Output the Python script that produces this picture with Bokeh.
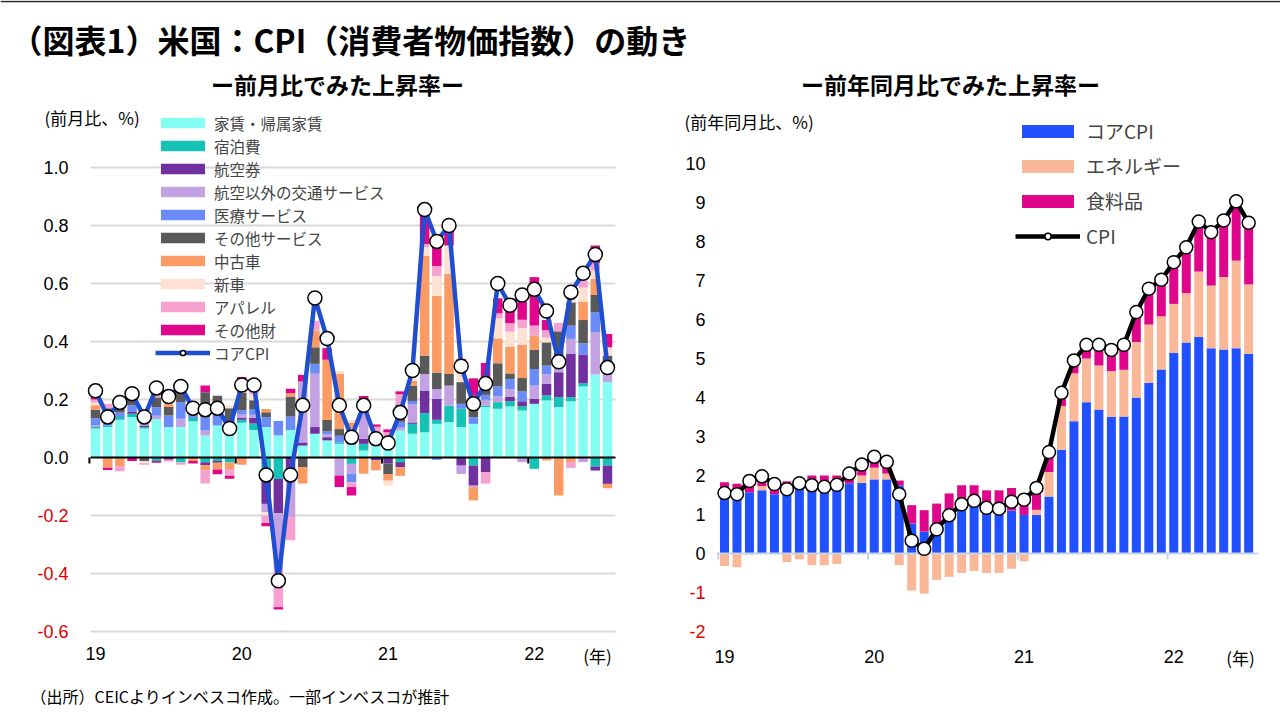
from bokeh.plotting import figure
from bokeh.models import ColumnDataSource, Legend, LegendItem, Range1d
from bokeh.layouts import column, row
from bokeh.embed import file_html
from bokeh.resources import INLINE
from bokeh.core.properties import value

JP = "Noto Sans CJK JP"
NUM = "Liberation Sans"

# ---------------- data ----------------
months = [f"{y}-{m:02d}" for y in (2019, 2020, 2021, 2022) for m in range(1, 13)][:43]
year_labels = ["19", "20", "21", "22"]
unit_label = "(年)"

left_ticks = [-0.6, -0.4, -0.2, 0.0, 0.2, 0.4, 0.6, 0.8, 1.0]
right_ticks = [-2, -1, 0, 1, 2, 3, 4, 5, 6, 7, 8, 9, 10]

# month-on-month contributions (%pt)
rent = [0.100, 0.105, 0.130, 0.140, 0.100, 0.133, 0.105, 0.105, 0.125, 0.076, 0.110, 0.100,
        0.120, 0.095, 0.105, 0.076, 0.095, 0.041, 0.082, 0.059, 0.047, 0.045, 0.024, 0.041,
        0.047, 0.093, 0.082, 0.087, 0.116, 0.122, 0.105, 0.116, 0.174, 0.168, 0.176, 0.162,
        0.185, 0.197, 0.174, 0.194, 0.245, 0.286, 0.260]
lodging = [0.005, 0.005, 0.010, 0.011, 0.005, -0.012, 0.000, -0.017, 0.011, -0.016, -0.012, -0.017,
           0.010, 0.022, -0.062, -0.074, 0.000, 0.000, 0.000, 0.000, 0.005, -0.022, 0.023, 0.000,
           0.010, -0.016, 0.034, 0.066, 0.014, 0.057, 0.063, -0.028, 0.005, 0.023, 0.018, 0.015,
           -0.039, 0.017, 0.034, 0.014, 0.011, -0.031, -0.028]
airfare = [0.000, 0.000, 0.000, 0.006, 0.005, 0.000, -0.008, 0.000, 0.000, -0.011, -0.006, 0.000,
           0.008, 0.020, -0.098, -0.118, -0.050, 0.011, 0.023, 0.011, 0.000, 0.000, 0.017, -0.010,
           -0.020, -0.017, 0.005, 0.078, 0.072, 0.000, -0.028, -0.069, -0.050, 0.000, 0.016, 0.017,
           0.017, 0.040, 0.086, 0.149, 0.099, -0.014, -0.063]
transport = [0.005, 0.000, 0.000, 0.000, 0.010, 0.011, 0.000, 0.029, 0.000, 0.017, 0.000, 0.000,
             0.010, 0.010, -0.029, -0.198, -0.155, 0.210, 0.184, 0.010, -0.062, -0.034, 0.098, 0.000,
             0.000, 0.010, 0.063, 0.057, 0.034, 0.069, -0.029, -0.005, 0.020, 0.020, 0.026, -0.016,
             0.046, 0.034, 0.015, 0.052, -0.016, 0.146, 0.034]
medical = [0.025, 0.020, 0.015, 0.023, 0.017, 0.029, 0.040, 0.057, 0.029, 0.046, 0.040, 0.010,
           0.015, 0.020, 0.034, 0.050, 0.046, 0.000, 0.034, 0.010, 0.023, -0.029, 0.000, 0.015,
           0.010, 0.020, 0.011, 0.000, -0.008, 0.000, 0.017, 0.023, 0.017, 0.034, 0.034, 0.034,
           0.057, 0.029, 0.000, 0.046, 0.039, 0.069, 0.000]
other_serv = [0.030, 0.040, 0.020, 0.029, -0.012, 0.034, 0.029, 0.040, 0.020, 0.086, 0.063, 0.060,
              0.060, 0.030, 0.017, 0.000, 0.069, -0.033, 0.057, 0.040, 0.023, 0.050, 0.000, 0.017,
              -0.037, 0.060, 0.052, 0.063, 0.057, 0.040, 0.075, 0.034, 0.040, 0.080, 0.020, 0.046,
              0.066, 0.080, 0.126, 0.080, 0.080, 0.061, 0.057]
used_cars = [0.015, -0.035, -0.030, 0.000, 0.000, 0.000, 0.012, 0.000, -0.012, -0.017, -0.023, -0.023,
             -0.025, 0.000, 0.011, 0.000, 0.012, -0.057, 0.057, 0.207, 0.190, 0.025, -0.056, -0.034,
             -0.023, -0.030, 0.017, 0.345, 0.264, 0.345, 0.000, -0.046, 0.000, 0.086, 0.092, 0.115,
             0.050, -0.010, -0.131, -0.016, 0.063, 0.054, -0.015]
new_cars = [0.010, 0.000, 0.000, 0.000, -0.008, 0.000, 0.008, 0.000, 0.000, 0.000, 0.000, 0.010,
            0.000, 0.020, -0.011, 0.000, 0.000, 0.000, 0.000, 0.000, 0.010, 0.010, 0.000, 0.010,
            -0.017, 0.000, 0.008, 0.030, 0.069, 0.098, 0.030, 0.020, 0.015, 0.069, 0.052, 0.057,
            0.000, 0.017, 0.000, 0.030, 0.049, 0.030, 0.029]
apparel = [0.010, 0.015, -0.017, 0.000, -0.005, 0.022, -0.006, -0.008, 0.000, -0.046, 0.000, -0.023,
           0.035, 0.015, -0.026, -0.126, -0.080, 0.000, 0.034, 0.000, 0.000, -0.017, 0.010, 0.023,
           0.020, 0.035, 0.000, 0.010, 0.034, 0.000, 0.015, 0.020, -0.040, 0.017, 0.029, 0.029,
           0.034, 0.025, 0.029, -0.020, 0.023, 0.025, 0.000]
other_goods = [0.020, -0.008, 0.020, -0.012, 0.012, -0.006, 0.010, 0.000, -0.009, 0.023, -0.017, -0.010,
               0.020, 0.000, -0.011, -0.008, 0.015, 0.023, 0.000, 0.040, -0.040, -0.029, 0.040, 0.008,
               0.010, 0.010, 0.000, 0.100, 0.086, 0.063, 0.035, 0.060, 0.055, 0.052, 0.052, 0.063,
               0.167, 0.035, 0.000, 0.025, 0.000, 0.060, 0.046]
core_mom = [0.23, 0.14, 0.19, 0.22, 0.14, 0.24, 0.21, 0.245, 0.17, 0.165, 0.17, 0.10,
            0.25, 0.25, -0.06, -0.425, -0.06, 0.18, 0.55, 0.41, 0.18, 0.07, 0.18, 0.065,
            0.05, 0.155, 0.30, 0.855, 0.745, 0.80, 0.315, 0.185, 0.255, 0.60, 0.525, 0.56,
            0.58, 0.505, 0.33, 0.57, 0.635, 0.70, 0.31]

left_names = ["家賃・帰属家賃", "宿泊費", "航空券", "航空以外の交通サービス", "医療サービス",
              "その他サービス", "中古車", "新車", "アパレル", "その他財"]
left_series = [rent, lodging, airfare, transport, medical, other_serv, used_cars, new_cars, apparel, other_goods]
left_colors = ["#86fdf2", "#16c1b6", "#7030a0", "#c3a2e3", "#6b8cf8",
               "#595959", "#fb9a63", "#fde1d3", "#f7a1d0", "#e0068c"]

# year-on-year contributions (%pt)
core_yoy = [1.41, 1.37, 1.57, 1.62, 1.52, 1.62, 1.69, 1.71, 1.71, 1.78, 1.80, 1.81,
            1.90, 1.90, 1.75, 0.77, 0.56, 0.68, 0.90, 1.28, 1.28, 1.06, 1.02, 1.10,
            0.99, 0.99, 1.46, 2.66, 3.39, 3.88, 3.69, 3.50, 3.51, 4.00, 4.38, 4.72,
            5.14, 5.41, 5.55, 5.26, 5.23, 5.26, 5.12]
energy_yoy = [-0.32, -0.35, -0.03, 0.11, -0.02, -0.22, -0.15, -0.30, -0.30, -0.27, -0.02, 0.19,
              0.30, 0.15, -0.30, -0.95, -1.03, -0.68, -0.60, -0.50, -0.45, -0.50, -0.50, -0.39,
              -0.20, 0.13, 0.63, 1.12, 1.23, 1.12, 1.13, 1.18, 1.20, 1.42, 1.49, 1.36,
              1.26, 1.27, 1.68, 1.61, 1.86, 2.25, 1.78]
food_yoy = [0.42, 0.42, 0.31, 0.15, 0.32, 0.23, 0.15, 0.29, 0.29, 0.22, 0.25, 0.15,
            0.20, 0.17, 0.12, 0.47, 0.55, 0.60, 0.64, 0.47, 0.47, 0.56, 0.60, 0.58,
            0.54, 0.50, 0.45, 0.30, 0.30, 0.30, 0.45, 0.52, 0.55, 0.70, 0.85, 0.92,
            1.03, 1.10, 1.18, 1.28, 1.36, 1.46, 1.47]
cpi_yoy = [1.55, 1.52, 1.86, 1.98, 1.78, 1.65, 1.80, 1.75, 1.71, 1.76, 2.05, 2.28,
           2.48, 2.35, 1.52, 0.33, 0.12, 0.62, 0.98, 1.26, 1.35, 1.17, 1.15, 1.33,
           1.38, 1.68, 2.60, 4.12, 4.95, 5.35, 5.35, 5.22, 5.35, 6.19, 6.79, 7.02,
           7.47, 7.85, 8.51, 8.24, 8.54, 9.03, 8.48]

right_names = ["コアCPI", "エネルギー", "食料品"]
right_series = [core_yoy, energy_yoy, food_yoy]
right_colors = ["#2050ff", "#fbb898", "#e0068c"]

xs = list(range(len(months)))
year_starts = [i for i, m in enumerate(months) if m.endswith("-01")]

# ---------------- layout (page pixels -> data) ----------------
TOP = 62          # height of header strip
PW, PH = 640, 720 - TOP


def lx(px): return (px - 95) / 12.19
def ly(py): return (457 - py) / 290
def rx(px): return (px - 724) / 12.48
def ry(py): return (553 - py) / 39


def stack(series_list):
    n = len(series_list[0])
    pos = [0.0] * n
    neg = [0.0] * n
    out = []
    for s in series_list:
        b, t = [], []
        for i, v in enumerate(s):
            if v >= 0:
                b.append(pos[i]); t.append(pos[i] + v); pos[i] += v
            else:
                t.append(neg[i]); b.append(neg[i] + v); neg[i] += v
        out.append((b, t))
    return out


def panel(xr, yr):
    p = figure(width=PW, height=PH, x_range=xr, y_range=yr, output_backend="svg",
               toolbar_location=None, x_axis_type=None, y_axis_type=None, min_border=0)
    p.outline_line_color = None
    p.grid.visible = False
    return p


def txt(p, x, y, text, size, font=JP, align="left", color="#000000", bold=False):
    p.text(x=x, y=y, text=text, text_font=value(font), text_font_size=value(size),
           text_align=align, text_baseline="middle", text_color=color,
           text_font_style=value("bold" if bold else "normal"))


# ---------------- left panel ----------------
L = panel(Range1d(lx(0), lx(640)), Range1d(ly(720), ly(TOP)))
gx0, gx1 = lx(90), lx(615)
grid_t = [t for t in left_ticks if t != 0]
L.segment(x0=[gx0] * len(grid_t), x1=[gx1] * len(grid_t), y0=grid_t, y1=grid_t,
          line_color="#d9d9d9", line_width=2)

items = []
for name, col, (b, t) in zip(left_names, left_colors, stack(left_series)):
    src = ColumnDataSource(dict(x=xs, bottom=b, top=t))
    r = L.vbar(x="x", bottom="bottom", top="top", width=0.78, source=src,
               fill_color=col, line_color=None)
    items.append(LegendItem(label=name, renderers=[r]))
L.segment(x0=[gx0], x1=[gx1], y0=[0], y1=[0], line_color="#000000", line_width=2)
L.segment(x0=[s - 0.5 for s in year_starts], x1=[s - 0.5 for s in year_starts],
          y0=[0] * len(year_starts), y1=[ly(463)] * len(year_starts), line_color="#000000", line_width=2)
src_c = ColumnDataSource(dict(x=xs, y=core_mom))
ln = L.line("x", "y", source=src_c, line_color="#1f4fd0", line_width=4.5)
sc = L.scatter("x", "y", source=src_c, size=14, fill_color="#ffffff", line_color="#000000", line_width=1.5)
items.append(LegendItem(label="コアCPI", renderers=[ln, sc]))
legL = Legend(items=items, location=(155, 356), glyph_width=55, glyph_height=13, label_height=23,
              spacing=0, padding=0, margin=0, label_standoff=4, border_line_color=None,
              background_fill_alpha=0, label_text_font=JP, label_text_font_size="15.5px")
L.add_layout(legL)

# axis texts
txt(L, [lx(68)] * len(left_ticks), left_ticks, [f"{t:.1f}" for t in left_ticks], "18px",
    font=NUM, align="right", color=["#000000" if t >= 0 else "#e00000" for t in left_ticks])
txt(L, year_starts, [ly(653)] * len(year_starts), year_labels, "18px", font=NUM, align="center")
txt(L, [lx(597)], [ly(655)], [unit_label], "17px", align="center")
txt(L, [lx(337)], [ly(83)], ["ー前月比でみた上昇率ー"], "23px", align="center", bold=True)
txt(L, [lx(44)], [ly(117)], ["(前月比、%)"], "17px")
txt(L, [lx(30)], [ly(695)], ["（出所）CEICよりインベスコ作成。一部インベスコが推計"], "16px")

# ---------------- right panel ----------------
R = panel(Range1d(rx(640), rx(1280)), Range1d(ry(720), ry(TOP)))
zx0, zx1 = rx(716), rx(1258)

ritems = []
for name, col, (b, t) in zip(right_names, right_colors, stack(right_series)):
    src = ColumnDataSource(dict(x=xs, bottom=b, top=t))
    r = R.vbar(x="x", bottom="bottom", top="top", width=0.72, source=src,
               fill_color=col, line_color=None)
    ritems.append(LegendItem(label=name, renderers=[r]))
R.segment(x0=[zx0], x1=[zx1], y0=[0], y1=[0], line_color="#c9d3e6", line_width=2)
R.segment(x0=[s - 0.5 for s in year_starts], x1=[s - 0.5 for s in year_starts],
          y0=[0] * len(year_starts), y1=[ry(559)] * len(year_starts), line_color="#c9d3e6", line_width=2)
src_p = ColumnDataSource(dict(x=xs, y=cpi_yoy))
ln2 = R.line("x", "y", source=src_p, line_color="#000000", line_width=4.5)
sc2 = R.scatter("x", "y", source=src_p, size=13, fill_color="#ffffff", line_color="#000000", line_width=1.5)
ritems.append(LegendItem(label="CPI", renderers=[ln2, sc2]))
legR = Legend(items=ritems, location=(1015 - 640, 720 - 249), glyph_width=65, glyph_height=16,
              label_height=20, spacing=8, padding=0, margin=0, label_standoff=6,
              border_line_color=None, background_fill_alpha=0, label_text_font=JP,
              label_text_font_size="19px")
R.add_layout(legR)

txt(R, [rx(705)] * len(right_ticks), right_ticks, [str(t) for t in right_ticks], "18px",
    font=NUM, align="right", color=["#000000" if t >= 0 else "#e00000" for t in right_ticks])
txt(R, year_starts, [ry(656)] * len(year_starts), year_labels, "18px", font=NUM, align="center")
txt(R, [rx(1240)], [ry(657)], [unit_label], "17px", align="center")
txt(R, [rx(950)], [ry(83)], ["ー前年同月比でみた上昇率ー"], "23px", align="center", bold=True)
txt(R, [rx(684)], [ry(121)], ["(前年同月比、%)"], "17px")

# ---------------- header ----------------
H = figure(width=1280, height=TOP, x_range=Range1d(0, 1280), y_range=Range1d(0, TOP),
           output_backend="svg", toolbar_location=None, x_axis_type=None, y_axis_type=None,
           min_border=0)
H.outline_line_color = None
H.grid.visible = False
H.segment(x0=[0], x1=[1280], y0=[TOP - 1], y1=[TOP - 1], line_color="#222222", line_width=1.5)
txt(H, [10], [TOP - 38], ["（図表1）米国：CPI（消費者物価指数）の動き"], "32px", bold=True)

layout = column(H, row(L, R))
open("out.html", "w").write(file_html(layout, INLINE))
